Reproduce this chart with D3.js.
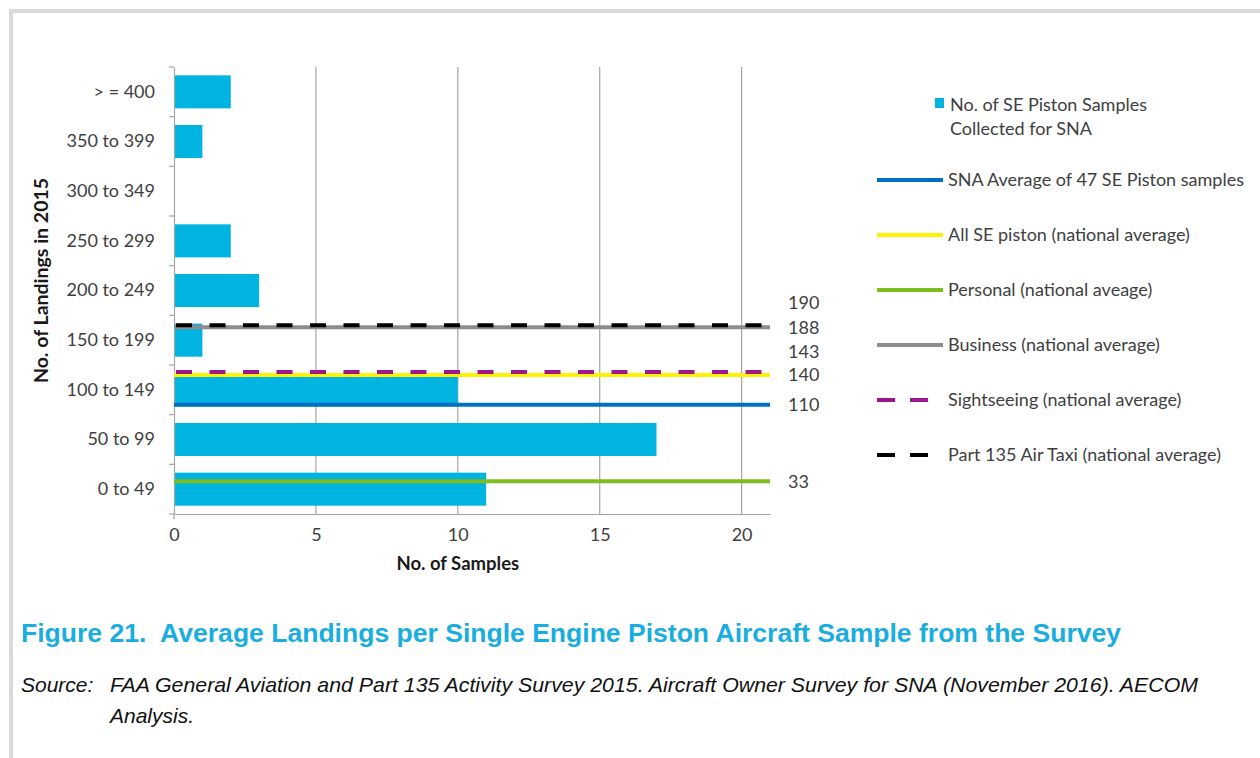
<!DOCTYPE html>
<html>
<head>
<meta charset="utf-8">
<script src="https://cdn.jsdelivr.net/npm/d3@7/dist/d3.min.js"></script>
<style>
  html, body { margin: 0; padding: 0; background: #ffffff; }
  svg { display: block; }
</style>
</head>
<body>
<svg id="chart" width="1260" height="758"></svg>
<script>
// Landing-count bins (bottom to top) and number of SE piston samples in each
const categories = ["0 to 49", "50 to 99", "100 to 149", "150 to 199", "200 to 249",
                    "250 to 299", "300 to 349", "350 to 399", "> = 400"];
const samples = [11, 17, 10, 1, 3, 2, 0, 1, 2];

// Average landings per aircraft used as reference lines
const refNames = ["SNA Average of 47 SE Piston samples", "All SE piston (national average)",
                  "Personal (national aveage)", "Business (national average)",
                  "Sightseeing (national average)", "Part 135 Air Taxi (national average)"];
const refValues = [110, 140, 33, 188, 143, 190];

const sampleTicks = [0, 5, 10, 15, 20];
const barLegend = ["No. of SE Piston Samples", "Collected for SNA"];

const captionTitle = "Figure 21.  Average Landings per Single Engine Piston Aircraft Sample from the Survey";
const sourceLead = "Source:";
const sourceLines = ["FAA General Aviation and Part 135 Activity Survey 2015. Aircraft Owner Survey for SNA (November 2016). AECOM",
                     "Analysis."];

// Styling for each reference line, in the same order as refNames
const refStyles = [
  { color: "#0070C0", dashed: false, labelDy: 0 },
  { color: "#FFF200", dashed: false, labelDy: 0 },
  { color: "#7DBE1E", dashed: false, labelDy: 0 },
  { color: "#8C8C8C", dashed: false, labelDy: 0 },
  { color: "#A0168C", dashed: true,  labelDy: -20 },
  { color: "#000000", dashed: true,  labelDy: -23 }
];
const PLOT_DASH = "16,17.5";
const LEGEND_DASH = "18,15";

const BAR_COLOR = "#00B4E2";
const GRID_COLOR = "#A6A6A6";
const TEXT_COLOR = "#404040";
const FONT = "Lato, 'Open Sans', sans-serif";
const FS = 18;
const ARIAL = "'Liberation Sans', Arial, sans-serif";

const svg = d3.select("#chart");

// page frame
svg.append("path")
  .attr("d", "M11,758 V11 H1262")
  .attr("fill", "none")
  .attr("stroke", "#D9DBDD")
  .attr("stroke-width", 4);

const plot = { left: 174, right: 770, top: 67, bottom: 514 };

const x = d3.scaleLinear().domain([0, 21]).range([plot.left, plot.right]);
const yBand = d3.scaleBand().domain(categories).range([plot.bottom, plot.top])
  .paddingInner(0.335).paddingOuter(0.1675);
const yVal = d3.scaleLinear().domain([0, categories.length * 50]).range([plot.bottom, plot.top]);

// vertical gridlines
svg.append("g").selectAll("line")
  .data(sampleTicks.filter(d => d > 0))
  .join("line")
  .attr("x1", d => x(d)).attr("x2", d => x(d))
  .attr("y1", plot.top).attr("y2", plot.bottom)
  .attr("stroke", GRID_COLOR).attr("stroke-width", 1.2);

// bars
svg.append("g").selectAll("rect")
  .data(categories.map((c, i) => ({ c, v: samples[i] })))
  .join("rect")
  .attr("x", x(0))
  .attr("y", d => yBand(d.c))
  .attr("width", d => x(d.v) - x(0))
  .attr("height", yBand.bandwidth())
  .attr("fill", BAR_COLOR);

// value axis (bottom)
const xAxis = svg.append("g")
  .attr("transform", `translate(0,${plot.bottom})`)
  .call(d3.axisBottom(x).tickValues(sampleTicks).tickSize(0).tickPadding(14));
xAxis.select(".domain").attr("stroke", GRID_COLOR).attr("stroke-width", 1.2);
xAxis.selectAll("text").attr("font-family", FONT).attr("font-size", FS).attr("fill", TEXT_COLOR);

// category axis (left) with boundary ticks between bins
const yAxis = svg.append("g")
  .attr("transform", `translate(${plot.left},0)`)
  .call(d3.axisLeft(yBand).tickSize(0).tickPadding(19));
yAxis.select(".domain").attr("stroke", GRID_COLOR).attr("stroke-width", 1.2);
yAxis.selectAll("text").attr("font-family", FONT).attr("font-size", FS).attr("fill", TEXT_COLOR);
const step = yBand.step();
svg.append("g").selectAll("line")
  .data(d3.range(categories.length + 1))
  .join("line")
  .attr("x1", plot.left - 5).attr("x2", plot.left)
  .attr("y1", i => plot.bottom - i * step).attr("y2", i => plot.bottom - i * step)
  .attr("stroke", GRID_COLOR).attr("stroke-width", 1.2);
svg.append("line")
  .attr("x1", plot.left).attr("x2", plot.left)
  .attr("y1", plot.bottom).attr("y2", plot.bottom + 5)
  .attr("stroke", GRID_COLOR).attr("stroke-width", 1.2);

// reference lines
const refs = refNames.map((n, i) => ({ n, v: refValues[i], s: refStyles[i] }));
const refG = svg.append("g");
refG.selectAll("line")
  .data(refs)
  .join("line")
  .attr("x1", x(0)).attr("x2", x(21))
  .attr("y1", d => yVal(d.v)).attr("y2", d => yVal(d.v))
  .attr("stroke", d => d.s.color)
  .attr("stroke-width", 4)
  .attr("stroke-dasharray", d => d.s.dashed ? PLOT_DASH : null)
  .attr("stroke-dashoffset", d => d.s.dashed ? 31.5 : null);

// value labels at the right end of each line
refG.selectAll("text")
  .data(refs)
  .join("text")
  .attr("x", plot.right + 18)
  .attr("y", d => yVal(d.v) + d.s.labelDy)
  .attr("dy", "0.35em")
  .attr("font-family", FONT).attr("font-size", FS).attr("fill", TEXT_COLOR)
  .text(d => d.v);

// axis titles
svg.append("text")
  .attr("x", x(10)).attr("y", 570)
  .attr("text-anchor", "middle")
  .attr("font-family", FONT).attr("font-size", 18.5).attr("font-weight", "bold").attr("fill", "#1a1a1a")
  .text("No. of Samples");
svg.append("text")
  .attr("transform", `translate(48,${(plot.top + plot.bottom) / 2 - 10}) rotate(-90)`)
  .attr("text-anchor", "middle")
  .attr("font-family", FONT).attr("font-size", 19.5).attr("font-weight", "bold").attr("fill", "#1a1a1a")
  .text("No. of Landings in 2015");

// legend
const legend = svg.append("g");
legend.append("rect")
  .attr("x", 935).attr("y", 98).attr("width", 9).attr("height", 10)
  .attr("fill", BAR_COLOR);
legend.selectAll("text.bar")
  .data(barLegend)
  .join("text")
  .attr("class", "bar")
  .attr("x", 950).attr("y", (d, i) => 105 + i * 24)
  .attr("dy", "0.35em")
  .attr("font-family", FONT).attr("font-size", FS).attr("fill", TEXT_COLOR)
  .text(d => d);

const rows = legend.selectAll("g.row")
  .data(refs)
  .join("g")
  .attr("class", "row")
  .attr("transform", (d, i) => `translate(0,${180 + i * 55})`);
rows.append("line")
  .attr("x1", 877).attr("x2", 943)
  .attr("stroke", d => d.s.color)
  .attr("stroke-width", 4)
  .attr("stroke-dasharray", d => d.s.dashed ? LEGEND_DASH : null);
rows.append("text")
  .attr("x", 948).attr("dy", "0.35em")
  .attr("font-family", FONT).attr("font-size", FS).attr("fill", TEXT_COLOR)
  .text(d => d.n);

// figure caption and source note
svg.append("text")
  .attr("x", 21).attr("y", 642)
  .style("white-space", "pre")
  .attr("font-family", ARIAL)
  .attr("font-size", 26).attr("font-weight", "bold").attr("fill", "#1AADDF")
  .attr("textLength", 1100).attr("lengthAdjust", "spacingAndGlyphs")
  .text(captionTitle);
svg.append("text")
  .attr("x", 21).attr("y", 692)
  .attr("font-family", ARIAL)
  .attr("font-size", 21).attr("font-style", "italic").attr("fill", "#111")
  .text(sourceLead);
svg.append("text")
  .attr("x", 110).attr("y", 692)
  .attr("font-family", ARIAL)
  .attr("font-size", 21).attr("font-style", "italic").attr("fill", "#111")
  .attr("textLength", 1088).attr("lengthAdjust", "spacingAndGlyphs")
  .text(sourceLines[0]);
svg.append("text")
  .attr("x", 110).attr("y", 723)
  .attr("font-family", ARIAL)
  .attr("font-size", 21).attr("font-style", "italic").attr("fill", "#111")
  .text(sourceLines[1]);
</script>
</body>
</html>
